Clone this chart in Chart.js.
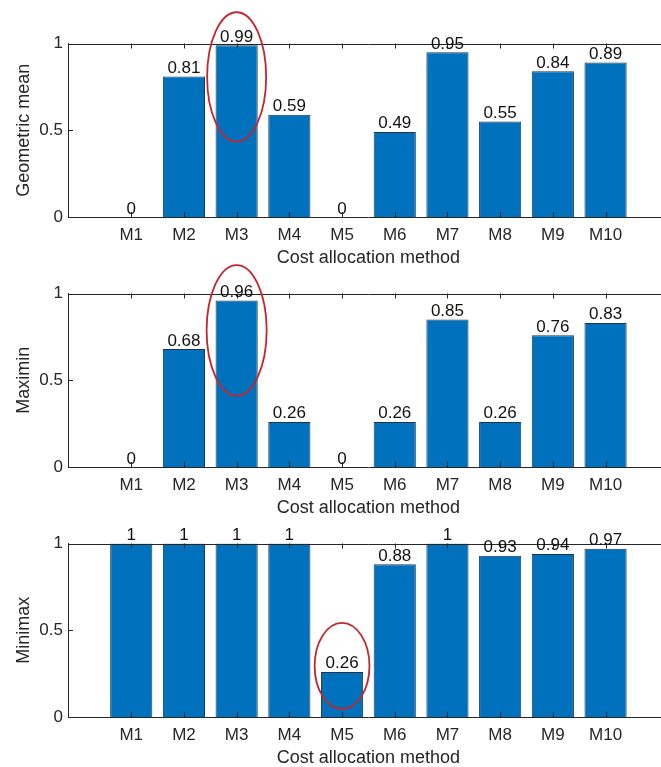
<!DOCTYPE html>
<html>
<head>
<meta charset="utf-8">
<title>Cost allocation methods</title>
<script src="https://cdn.jsdelivr.net/npm/chart.js@4.4.1/dist/chart.umd.min.js"></script>
<style>
  html, body { margin: 0; padding: 0; background: #fff; }
  #wrap { position: relative; width: 661px; height: 767px; overflow: hidden; background: #fff; }
  #wrap canvas { position: absolute; left: 0; }
</style>
</head>
<body>
<div id="wrap">
  <canvas id="c1" width="680" height="270" style="top:0px"></canvas>
  <canvas id="c2" width="680" height="270" style="top:250px"></canvas>
  <canvas id="c3" width="680" height="270" style="top:500px"></canvas>
</div>
<script>
// datos
const categories = ['M1', 'M2', 'M3', 'M4', 'M5', 'M6', 'M7', 'M8', 'M9', 'M10'];
const geometricMean = [0, 0.81, 0.99, 0.59, 0, 0.49, 0.95, 0.55, 0.84, 0.89];
const maximin = [0, 0.68, 0.96, 0.26, 0, 0.26, 0.85, 0.26, 0.76, 0.83];
const minimax = [1, 1, 1, 1, 0.26, 0.88, 1, 0.93, 0.94, 0.97];
const yTicks = [0, 0.5, 1];
const xTitle = 'Cost allocation method';

// ellipses rojas: categoria marcada y rango en unidades de datos
const marks = [
    { at: 3, from: 0.434, to: 1.18, half: 0.56 },
    { at: 3, from: 0.411, to: 1.164, half: 0.57 },
    { at: 5, from: 0.046, to: 0.543, half: 0.52 }
];

const FONT = '"Liberation Sans", Arial, Helvetica, sans-serif';
const TEXT = '#262626';
const BAR = '#0072BD';
const PLOT_TOP = 43.5;
const PLOT_BOTTOM = 217;
const CANVAS_H = 270;

// ejes estilo MATLAB: linea superior, ticks hacia dentro, etiquetas y elipse
const matlabLook = {
    id: 'matlabLook',
    afterDatasetsDraw(chart, args, opts) {
        const ctx = chart.ctx;
        const area = chart.chartArea;
        const xs = chart.scales.x;
        const ys = chart.scales.y;

        ctx.save();
        ctx.strokeStyle = TEXT;
        ctx.lineWidth = 1;
        ctx.beginPath();
        ctx.moveTo(area.left, Math.round(area.top) + 0.5);
        ctx.lineTo(area.right, Math.round(area.top) + 0.5);
        xs.ticks.forEach(t => {
            const px = Math.round(xs.getPixelForValue(t.value)) + 0.5;
            ctx.moveTo(px, area.bottom);
            ctx.lineTo(px, area.bottom - 5);
            ctx.moveTo(px, area.top);
            ctx.lineTo(px, area.top + 5);
        });
        ys.ticks.forEach(t => {
            const py = Math.round(ys.getPixelForValue(t.value)) + 0.5;
            ctx.moveTo(area.left, py);
            ctx.lineTo(area.left + 5, py);
        });
        ctx.stroke();

        // valores encima de cada barra
        const values = chart.data.datasets[0].data;
        ctx.fillStyle = '#111';
        ctx.font = '17px ' + FONT;
        ctx.textAlign = 'center';
        ctx.textBaseline = 'alphabetic';
        chart.getDatasetMeta(0).data.forEach((bar, i) => {
            ctx.fillText(String(values[i].y), bar.x, bar.y - 3.5);
        });

        // elipse de resaltado
        const m = opts.mark;
        if (m) {
            const cx = xs.getPixelForValue(m.at);
            const y1 = ys.getPixelForValue(m.from);
            const y2 = ys.getPixelForValue(m.to);
            const rx = (xs.getPixelForValue(m.at + m.half) - xs.getPixelForValue(m.at - m.half)) / 2;
            ctx.strokeStyle = '#c4262e';
            ctx.lineWidth = 1.8;
            ctx.beginPath();
            ctx.ellipse(cx, (y1 + y2) / 2, rx, Math.abs(y1 - y2) / 2, 0, 0, Math.PI * 2);
            ctx.stroke();
        }
        ctx.restore();
    }
};

function makePanel(canvasId, yLabel, values, mark) {
    return new Chart(document.getElementById(canvasId), {
        type: 'bar',
        data: {
            datasets: [{
                data: values.map((v, i) => ({ x: i + 1, y: v })),
                backgroundColor: BAR,
                borderColor: '#1d3550',
                borderWidth: 1,
                borderSkipped: 'start',
                barPercentage: 0.8,
                categoryPercentage: 1
            }]
        },
        options: {
            responsive: false,
            animation: false,
            devicePixelRatio: 1,
            layout: { padding: { top: PLOT_TOP, left: 0, right: 11.2, bottom: 0 } },
            plugins: {
                legend: { display: false },
                tooltip: { enabled: false },
                matlabLook: { mark: mark }
            },
            scales: {
                x: {
                    type: 'linear',
                    offset: false,
                    min: -0.2,
                    max: 11.2,
                    afterBuildTicks: s => { s.ticks = categories.map((c, i) => ({ value: i + 1 })); },
                    afterFit: s => { s.height = CANVAS_H - PLOT_BOTTOM; },
                    grid: { display: false, drawTicks: false },
                    border: { display: true, color: TEXT, width: 1 },
                    ticks: {
                        autoSkip: false,
                        maxRotation: 0,
                        padding: 8,
                        color: TEXT,
                        font: { family: FONT, size: 17 },
                        callback: v => categories[v - 1]
                    },
                    title: {
                        display: true,
                        text: xTitle,
                        color: TEXT,
                        font: { family: FONT, size: 18 },
                        padding: { top: 0, bottom: 1.5 }
                    }
                },
                y: {
                    min: 0,
                    max: 1,
                    afterBuildTicks: s => { s.ticks = yTicks.map(v => ({ value: v })); },
                    afterFit: s => { s.width = 68; },
                    grid: { display: false, drawTicks: false },
                    border: { display: true, color: TEXT, width: 1 },
                    ticks: {
                        padding: 5,
                        color: TEXT,
                        font: { family: FONT, size: 17 },
                        callback: v => String(v)
                    },
                    title: {
                        display: true,
                        text: yLabel,
                        color: TEXT,
                        font: { family: FONT, size: 18 },
                        padding: { top: 13.4, bottom: 0 }
                    }
                }
            }
        },
        plugins: [matlabLook]
    });
}

document.addEventListener('DOMContentLoaded', function () {
    makePanel('c1', 'Geometric mean', geometricMean, marks[0]);
    makePanel('c2', 'Maximin', maximin, marks[1]);
    makePanel('c3', 'Minimax', minimax, marks[2]);
});
</script>
</body>
</html>
